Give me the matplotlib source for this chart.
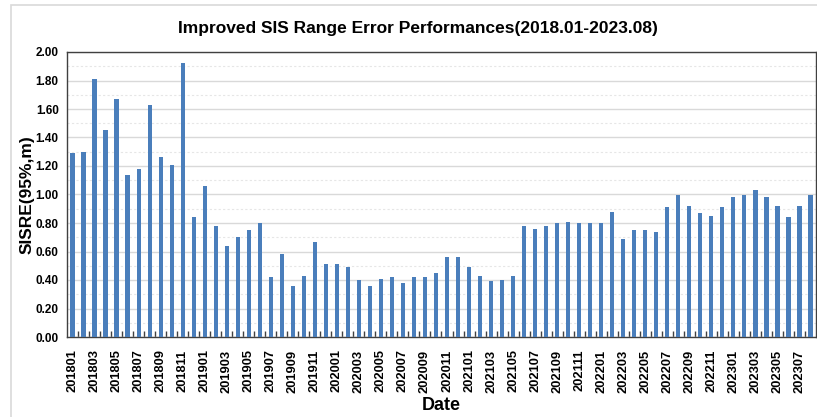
import matplotlib
matplotlib.use("Agg")
import matplotlib.pyplot as plt
import matplotlib.ticker as ticker
from matplotlib.patches import Rectangle

plt.rcParams['font.family'] = ['Liberation Sans', 'DejaVu Sans']

# monthly labels 2018.01 - 2023.08
months = [f"{y}{m:02d}" for y in range(2018, 2024) for m in range(1, 13)][:68]

sisre = [
    1.29, 1.30, 1.81, 1.45, 1.67, 1.14, 1.18, 1.63, 1.26, 1.21, 1.92, 0.84,  # 2018
    1.06, 0.78, 0.64, 0.70, 0.75, 0.80, 0.42, 0.58, 0.36, 0.43, 0.67, 0.51,  # 2019
    0.51, 0.49, 0.40, 0.36, 0.41, 0.42, 0.38, 0.42, 0.42, 0.45, 0.56, 0.56,  # 2020
    0.49, 0.43, 0.39, 0.40, 0.43, 0.78, 0.76, 0.78, 0.80, 0.81, 0.80, 0.80,  # 2021
    0.80, 0.88, 0.69, 0.75, 0.75, 0.74, 0.91, 1.00, 0.92, 0.87, 0.85, 0.91,  # 2022
    0.98, 1.00, 1.03, 0.98, 0.92, 0.84, 0.92, 1.00,                          # 2023
]

title = "Improved SIS Range Error Performances(2018.01-2023.08)"
bar_color = "#4a7ebb"

fig = plt.figure(figsize=(8.17, 4.17), dpi=100)
ax = fig.add_axes([67 / 817, 1 - 337 / 417, (816 - 67) / 817, (337 - 52) / 417])

# outer chart border
fig.patches.append(Rectangle((11 / 817, -0.01), 1.0, 1 - 5 / 417 + 0.01,
                             transform=fig.transFigure, fill=False,
                             edgecolor="#d9d9d9", linewidth=1.2))

x = list(range(len(sisre)))
ax.bar(x, sisre, width=0.38, color=bar_color, zorder=3)

ax.set_xlim(-0.5, len(sisre) - 0.5)
ax.set_ylim(0, 2.0)

ax.yaxis.set_major_locator(ticker.MultipleLocator(0.2))
ax.yaxis.set_minor_locator(ticker.MultipleLocator(0.1))
ax.yaxis.set_major_formatter(ticker.FormatStrFormatter("%.2f"))
ax.grid(axis="y", which="major", color="#d9d9d9", linewidth=1.0, zorder=0)
ax.grid(axis="y", which="minor", color="#e6e6e6", linewidth=0.8,
        linestyle=(0, (2, 2)), zorder=0)
ax.tick_params(axis="y", which="both", length=0, labelsize=8.5, pad=6)
for lbl in ax.get_yticklabels():
    lbl.set_fontweight("bold")

# category labels every other month, ticks between categories
ax.set_xticks(x[::2])
ax.set_xticklabels(months[::2], rotation=90, fontsize=9.3, fontweight="bold")
ax.tick_params(axis="x", which="major", length=0, pad=9)
ax.set_xticks([i + 0.5 for i in x[:-1]], minor=True)
ax.tick_params(axis="x", which="minor", direction="in", length=4,
               width=1.0, color="#404040")

for s in ax.spines.values():
    s.set_color("#404040")
    s.set_linewidth(1.0)

ax.set_ylabel("SISRE(95%,m)", fontsize=12.5, fontweight="bold", labelpad=1)
ax.set_xlabel("Date", fontsize=13, fontweight="bold", labelpad=3)
fig.text(418 / 817, 1 - 28 / 417, title, ha="center", va="center",
         fontsize=12.5, fontweight="bold")

fig.savefig("out.png", dpi=100)
